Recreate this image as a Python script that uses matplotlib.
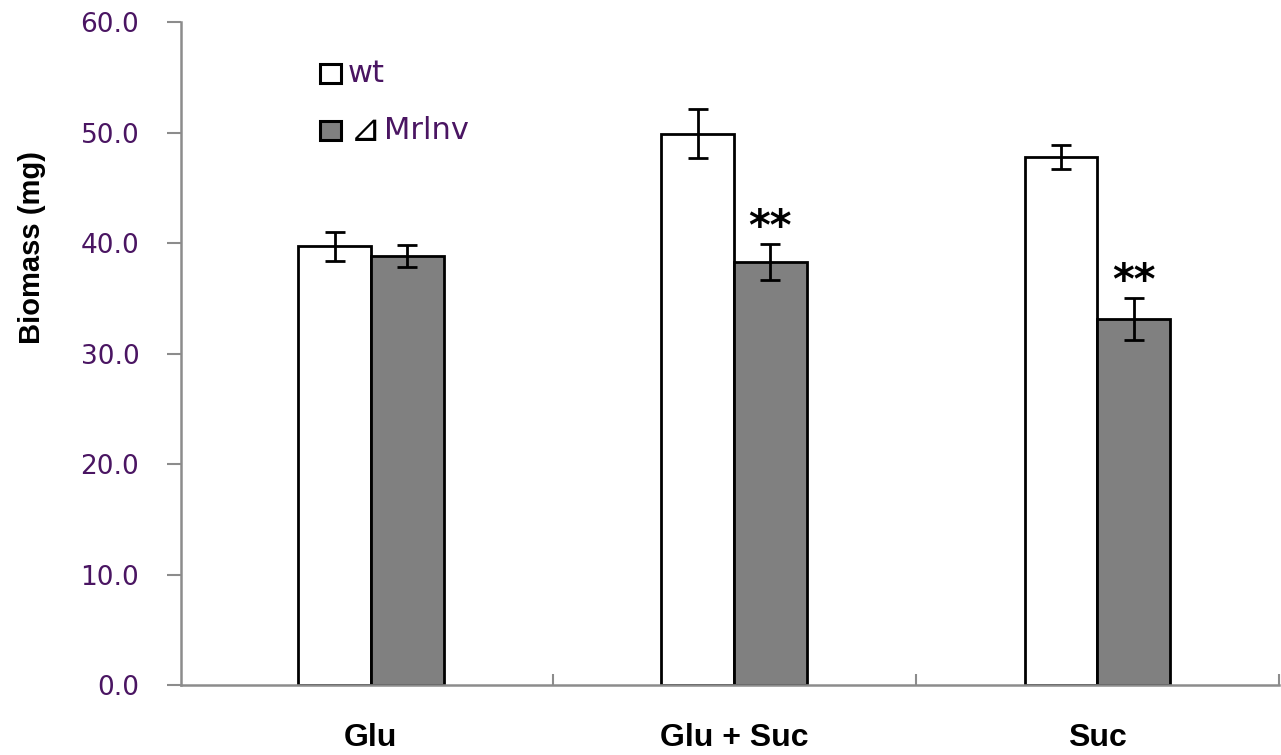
import numpy as np
import matplotlib.pyplot as plt
from matplotlib.patches import Rectangle

# data
categories = ["Glu", "Glu + Suc", "Suc"]
wt_mean = [39.7, 49.9, 47.8]
wt_err = [1.3, 2.2, 1.1]
mut_mean = [38.8, 38.3, 33.1]
mut_err = [1.0, 1.6, 1.9]
mut_stars = ["", "**", "**"]
yticks = [0, 10, 20, 30, 40, 50, 60]

purple = "#4a1562"
spine_gray = "#8c8c8c"
bar_gray = "#808080"

fig = plt.figure(figsize=(12.81, 7.55), dpi=100)
ax = fig.add_axes([0.1413, 0.0927, 0.857, 0.878])

x = np.arange(len(categories)) + 0.5
w = 0.2
ax.bar(x - w / 2, wt_mean, w, color="white", edgecolor="black", linewidth=2, zorder=2)
ax.bar(x + w / 2, mut_mean, w, color=bar_gray, edgecolor="black", linewidth=2, zorder=2)
ax.errorbar(x - w / 2, wt_mean, yerr=wt_err, fmt="none", ecolor="black",
            elinewidth=2, capsize=7, capthick=2, zorder=3)
ax.errorbar(x + w / 2, mut_mean, yerr=mut_err, fmt="none", ecolor="black",
            elinewidth=2, capsize=7, capthick=2, zorder=3)
for xi, m, e, s in zip(x, mut_mean, mut_err, mut_stars):
    if s:
        ax.text(xi + w / 2, m + e - 0.4, s, ha="center", va="bottom",
                fontsize=30, fontweight="bold", color="black")

ax.set_xlim(-0.023, 3.0)
ax.set_ylim(0, 60)
ax.set_yticks(yticks)
ax.set_yticklabels([f"{v:.1f}" for v in yticks])
ax.tick_params(axis="y", direction="out", length=10, width=1.5, color=spine_gray,
               labelsize=19, labelcolor=purple, pad=20)

ax.set_xticks([1, 2, 3])
ax.set_xticklabels([])
ax.set_xticks(x, minor=True)
ax.set_xticklabels(categories, minor=True, fontsize=23, fontweight="bold",
                   family=["Liberation Sans", "DejaVu Sans"])
ax.tick_params(axis="x", which="major", direction="in", length=8, width=1.5, color=spine_gray)
ax.tick_params(axis="x", which="minor", length=0, pad=27)

for side in ["top", "right"]:
    ax.spines[side].set_visible(False)
for side in ["left", "bottom"]:
    ax.spines[side].set_color(spine_gray)
    ax.spines[side].set_linewidth(1.8)

fig.text(32 / 1281, 1 - 247 / 755, "Biomass (mg)", rotation=90, ha="center", va="center",
         fontsize=21, fontweight="bold", family=["Liberation Sans", "DejaVu Sans"])

# legend drawn by hand (square, black triangle, purple text)
leg_x, leg_y = 0.1266, [0.923, 0.836]
sq_w, sq_h = 0.019, 0.029
ax.add_patch(Rectangle((leg_x, leg_y[0] - sq_h / 2), sq_w, sq_h, transform=ax.transAxes,
                       facecolor="white", edgecolor="black", linewidth=2.2, clip_on=False))
ax.add_patch(Rectangle((leg_x, leg_y[1] - sq_h / 2), sq_w, sq_h, transform=ax.transAxes,
                       facecolor=bar_gray, edgecolor="black", linewidth=2.2, clip_on=False))
ax.text(0.152, leg_y[0], "wt", transform=ax.transAxes, ha="left", va="center",
        fontsize=22, color=purple)
ax.text(0.154, leg_y[1], "⊿", transform=ax.transAxes, ha="left", va="center",
        fontsize=27, color="black")
ax.text(0.185, leg_y[1], "Mrlnv", transform=ax.transAxes, ha="left",
        va="center", fontsize=22, color=purple)

fig.savefig("out.png", dpi=100)
